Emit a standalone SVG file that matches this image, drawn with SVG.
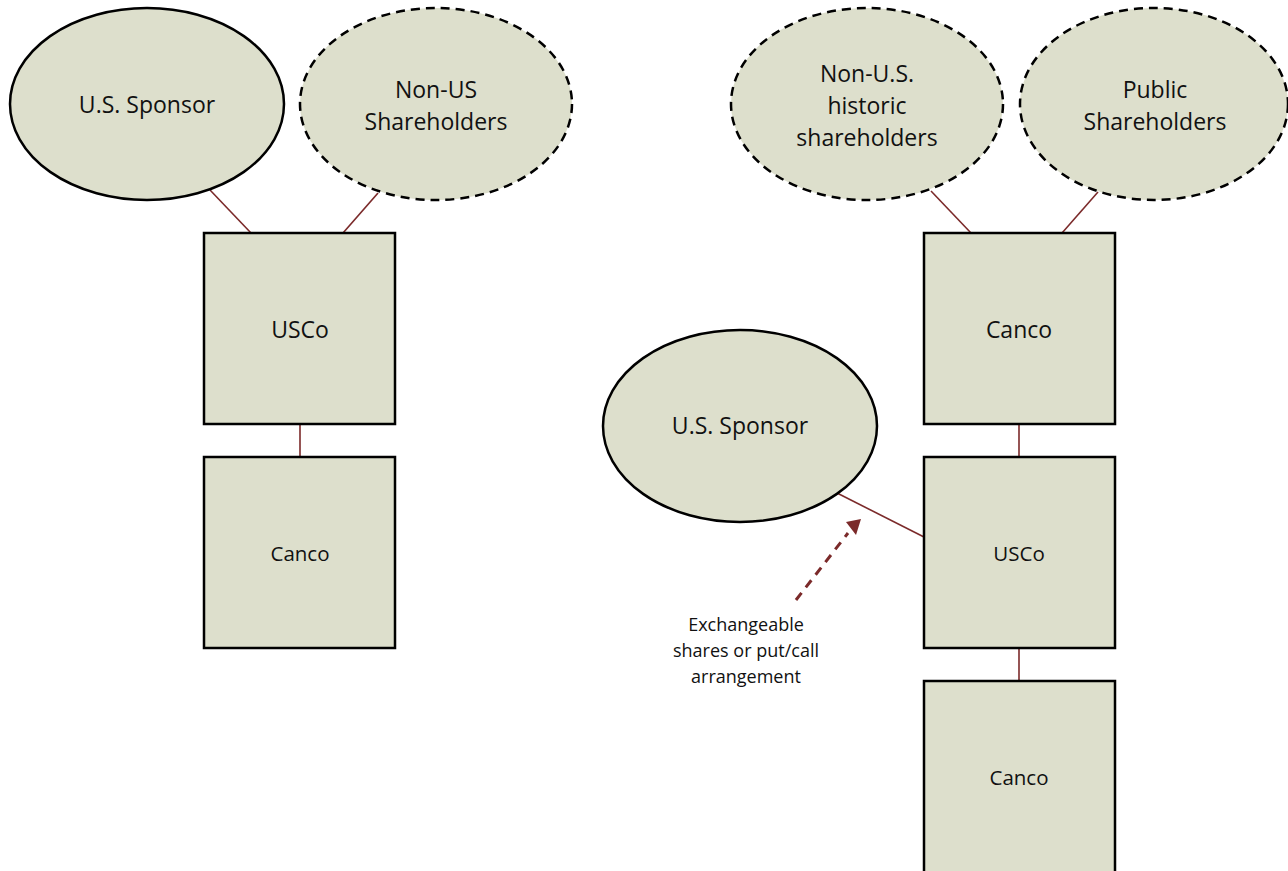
<svg xmlns="http://www.w3.org/2000/svg" width="1288" height="871" viewBox="0 0 1288 871">
  <style>
    .shape { fill: #dddfcc; stroke: #000; stroke-width: 2.5; }
    .dash { stroke-dasharray: 9 6; }
    .lbl { font-family: "Open Sans", Lato, sans-serif; font-size: 23px; fill: #111; text-anchor: middle; }
    .sm { font-size: 20.5px; }
    .note { font-family: "Open Sans", Lato, sans-serif; font-size: 18px; fill: #111; text-anchor: middle; }
    .link { stroke: #7b2a2a; stroke-width: 1.6; fill: none; }
    .arrow { stroke: #7b2a2a; stroke-width: 3; fill: none; stroke-dasharray: 9 7; }
  </style>

  <!-- connectors -->
  <g id="connectors">
    <line class="link" x1="210" y1="190" x2="251" y2="233"/>
    <line class="link" x1="378" y1="193" x2="343" y2="233"/>
    <line class="link" x1="300" y1="424" x2="300" y2="457"/>
    <line class="link" x1="931" y1="191" x2="971" y2="233"/>
    <line class="link" x1="1098" y1="192" x2="1062" y2="233"/>
    <line class="link" x1="1019" y1="424" x2="1019" y2="457"/>
    <line class="link" x1="1019" y1="648" x2="1019" y2="681"/>
    <line class="link" x1="837" y1="493" x2="924" y2="537"/>
    <line class="arrow" x1="796" y1="600" x2="848" y2="533"/>
    <path d="M846,522 L861,519 L856,535 z" fill="#7b2a2a"/>
  </g>

  <!-- left structure -->
  <g id="us-sponsor-left">
    <ellipse class="shape" cx="147" cy="104" rx="137" ry="96"/>
    <text class="lbl" x="147" y="113">U.S. Sponsor</text>
  </g>
  <g id="non-us-shareholders">
    <ellipse class="shape dash" cx="436" cy="104" rx="136" ry="96"/>
    <text class="lbl" x="436" y="98">Non-US</text>
    <text class="lbl" x="436" y="130">Shareholders</text>
  </g>
  <g id="usco-left">
    <rect class="shape" x="204" y="233" width="191" height="191"/>
    <text class="lbl" x="300" y="338">USCo</text>
  </g>
  <g id="canco-left">
    <rect class="shape" x="204" y="457" width="191" height="191"/>
    <text class="lbl sm" x="300" y="561">Canco</text>
  </g>

  <!-- right structure -->
  <g id="non-us-historic">
    <ellipse class="shape dash" cx="867" cy="104" rx="136" ry="96"/>
    <text class="lbl" x="867" y="82">Non-U.S.</text>
    <text class="lbl" x="867" y="114">historic</text>
    <text class="lbl" x="867" y="146">shareholders</text>
  </g>
  <g id="public-shareholders">
    <ellipse class="shape dash" cx="1154" cy="104" rx="134" ry="96"/>
    <text class="lbl" x="1155" y="98">Public</text>
    <text class="lbl" x="1155" y="130">Shareholders</text>
  </g>
  <g id="canco-top">
    <rect class="shape" x="924" y="233" width="191" height="191"/>
    <text class="lbl" x="1019" y="338">Canco</text>
  </g>
  <g id="us-sponsor-right">
    <ellipse class="shape" cx="740" cy="426" rx="137" ry="96"/>
    <text class="lbl" x="740" y="434">U.S. Sponsor</text>
  </g>
  <g id="usco-right">
    <rect class="shape" x="924" y="457" width="191" height="191"/>
    <text class="lbl sm" x="1019" y="561">USCo</text>
  </g>
  <g id="canco-bottom">
    <rect class="shape" x="924" y="681" width="191" height="200"/>
    <text class="lbl sm" x="1019" y="785">Canco</text>
  </g>

  <!-- arrow label -->
  <g id="exchange-note">
    <text class="note" x="746" y="631">Exchangeable</text>
    <text class="note" x="746" y="657">shares or put/call</text>
    <text class="note" x="746" y="683">arrangement</text>
  </g>
</svg>
